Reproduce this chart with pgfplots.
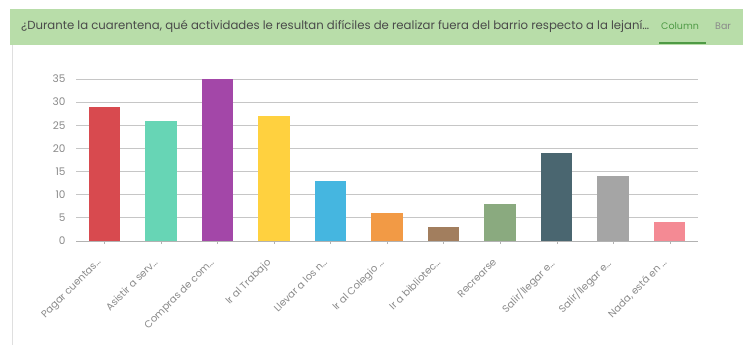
\documentclass[border=0pt]{standalone}
\usepackage{pgfplots}
\pgfplotsset{compat=1.18}
\usepackage{fontspec}
\setmainfont{Poppins}
\definecolor{hdr}{HTML}{B8DDA9}
\definecolor{hdrline}{HTML}{4E9A45}
\definecolor{tickgray}{HTML}{8A8A8A}
\definecolor{titlegray}{HTML}{4A4A4A}
\definecolor{c1}{HTML}{D84A4F}
\definecolor{c2}{HTML}{67D5B5}
\definecolor{c3}{HTML}{A347A8}
\definecolor{c4}{HTML}{FFD13F}
\definecolor{c5}{HTML}{45B6E0}
\definecolor{c6}{HTML}{F29A45}
\definecolor{c7}{HTML}{A27E5E}
\definecolor{c8}{HTML}{8AAA7F}
\definecolor{c9}{HTML}{4A6670}
\definecolor{c10}{HTML}{A5A5A5}
\definecolor{c11}{HTML}{F48A94}
\begin{document}
\begin{tikzpicture}
\useasboundingbox[fill=white] (0,0) rectangle (743bp,345bp);
\fill[hdr] (10bp,300bp) rectangle (743bp,336bp);
\draw[hdrline, line width=2bp] (659bp,302bp) -- (706bp,302bp);
\draw[gray!25, line width=0.8bp] (12bp,0) -- (12bp,300bp);
\node[anchor=west, text=titlegray, font=\fontsize{10.5bp}{12bp}\selectfont, inner sep=0pt] at (21bp,319bp) {\resizebox{628bp}{!}{¿Durante la cuarentena, qué actividades le resultan difíciles de realizar fuera del barrio respecto a la lejaní\ldots}};
\node[anchor=west, text=hdrline, font=\fontsize{9.5bp}{11bp}\selectfont, inner sep=0pt] at (661bp,319bp) {Column};
\node[anchor=west, text=tickgray, font=\fontsize{9.5bp}{11bp}\selectfont, inner sep=0pt] at (715bp,319bp) {Bar};
\begin{axis}[
  at={(76bp,104bp)}, anchor=south west,
  scale only axis, width=622bp, height=162bp,
  xmin=-0.5, xmax=10.5, ymin=0, ymax=35,
  ytick={0,5,10,15,20,25,30,35},
  xtick={0,1,2,3,4,5,6,7,8,9,10},
  xticklabels={{Pagar cuentas\ldots},{Asistir a serv\ldots},{Compras de com\ldots},{Ir al Trabajo},{Llevar a los n\ldots},{Ir al Colegio \ldots},{Ir a bibliotec\ldots},{Recrearse},{Salir/llegar e\ldots},{Salir/llegar e\ldots},{Nada, está en \ldots}},
  x tick label style={xshift=-8bp, yshift=-12bp, rotate=45, anchor=north east, font=\fontsize{10bp}{12bp}\selectfont, text=tickgray, inner sep=1bp},
  y tick label style={font=\fontsize{10.5bp}{12bp}\selectfont, text=tickgray, xshift=-4bp},
  /pgf/number format/assume math mode=true,
  axis lines*=left,
  x axis line style={draw=gray!60, line width=0.8bp},
  y axis line style={draw=none},
  ytick style={draw=none},
  xtick style={draw=gray!60},
  tick align=outside,
  major tick length=3bp,
  ymajorgrids, grid style={gray!45, line width=0.8bp},
  ybar, bar width=31.5bp, bar shift=0pt,
  clip=false,
]
\addplot[fill=c1, draw=none] coordinates {(0,29)};
\addplot[fill=c2, draw=none] coordinates {(1,26)};
\addplot[fill=c3, draw=none] coordinates {(2,35)};
\addplot[fill=c4, draw=none] coordinates {(3,27)};
\addplot[fill=c5, draw=none] coordinates {(4,13)};
\addplot[fill=c6, draw=none] coordinates {(5,6)};
\addplot[fill=c7, draw=none] coordinates {(6,3)};
\addplot[fill=c8, draw=none] coordinates {(7,8)};
\addplot[fill=c9, draw=none] coordinates {(8,19)};
\addplot[fill=c10, draw=none] coordinates {(9,14)};
\addplot[fill=c11, draw=none] coordinates {(10,4)};
\end{axis}
\end{tikzpicture}
\end{document}
